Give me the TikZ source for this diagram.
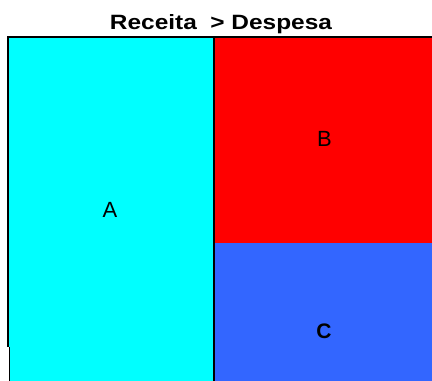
\documentclass[tikz,border=0pt]{standalone}
\usepackage{fontspec}
\setmainfont{Liberation Sans}
\usepackage{graphicx}
\definecolor{cyanA}{RGB}{0,255,255}
\definecolor{redB}{RGB}{255,0,0}
\definecolor{blueC}{RGB}{51,102,255}
\tikzset{
  lbl/.style={inner sep=0pt, font=\fontsize{22}{24}\selectfont},
  edgeline/.style={fill=black, draw=none}
}
\begin{document}
\begin{tikzpicture}[x=1pt,y=-1pt]
\useasboundingbox (0,0) rectangle (432,381);
% regions
\fill[cyanA] (8.7,37) rectangle (213,346.7);
\fill[cyanA] (10.3,346.7) rectangle (213,381);
\fill[redB] (215,37) rectangle (432,243.3);
\fill[blueC] (215,243.3) rectangle (432,381);
% black lines
\fill[edgeline] (7,35.7) rectangle (432,37.5);
\fill[edgeline] (7,35.7) rectangle (8.7,346.7);
\fill[edgeline] (9,346.7) rectangle (10.3,381);
\fill[edgeline] (212.7,35.7) rectangle (215.3,381);
% title
\node[inner sep=0pt, anchor=base] (title) at (221,29.3)
  {\resizebox{222pt}{15pt}{\bfseries Receita\ \ > Despesa}};
% labels
\node[lbl] (A) at (110,209.5) {A};
\node[lbl] (B) at (324.5,139) {B};
\node[lbl, font=\fontsize{21}{24}\selectfont\bfseries] (C) at (324,331.5) {C};
\end{tikzpicture}
\end{document}
